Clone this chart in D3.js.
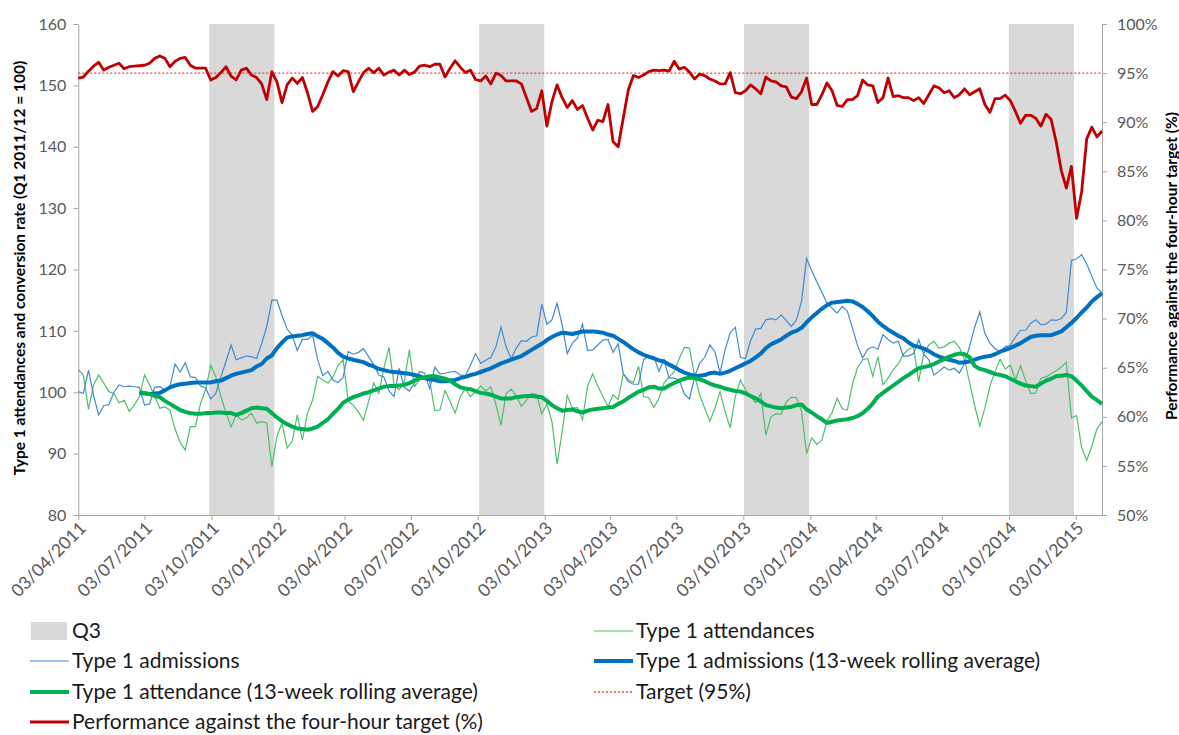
<!DOCTYPE html>
<html>
<head>
<meta charset="utf-8">
<script src="https://cdn.jsdelivr.net/npm/d3@7"></script>
<style>
  body { margin: 0; background: #fff; }
  #chart { width: 1179px; height: 735px; }
  text { font-family: Lato, "Open Sans", sans-serif; }
  .axis path, .axis line { stroke: #a6a6a6; }
  .axis text { fill: #595959; font-size: 16px; }
  .xaxis text { font-size: 17.5px; }
  .axisLabel { font-weight: bold; font-size: 15.5px; fill: #000; }
  .legend--label { font-size: 21px; fill: #1a1a1a; }
</style>
</head>
<body>
<div id="chart"></div>
<script>

/*
DATA (weekly, week ending Sunday, first week ending 03/04/2011)
*/
const firstWeek = "03/04/2011";

// Performance against the four-hour target (%)
const performance = [
    94.5, 94.6, 95.2, 95.7, 96.1, 95.3, 95.6, 95.8, 96.0, 95.45,
    95.65, 95.7, 95.75, 95.8, 96.0, 96.5, 96.75, 96.5, 95.65, 96.2,
    96.5, 96.6, 95.8, 95.5, 95.5, 95.5, 94.3, 94.55, 95.05, 95.65,
    94.7, 94.3, 95.3, 95.5, 94.8, 94.55, 93.9, 92.3, 95.15, 94.1,
    92.0, 93.8, 94.5, 93.95, 94.55, 93.0, 91.1, 91.6, 92.8, 94.1,
    95.15, 94.7, 95.25, 95.15, 93.1, 94.1, 95.05, 95.5, 95.05, 95.5,
    94.8, 95.1, 95.3, 94.8, 95.3, 94.85, 95.1, 95.7, 95.8, 95.65,
    95.9, 95.9, 94.6, 95.5, 96.25, 95.6, 95.05, 95.3, 94.35, 94.2,
    94.7, 93.9, 95.0, 94.75, 94.2, 94.2, 94.2, 93.9, 92.5, 91.1,
    91.4, 93.2, 89.6, 92.1, 93.8, 92.5, 91.5, 92.2, 91.3, 91.7,
    90.4, 89.2, 90.2, 90.05, 91.8, 88.0, 87.5, 90.4, 93.3, 94.75,
    94.55, 94.8, 95.15, 95.3, 95.25, 95.3, 95.2, 96.2, 95.4, 95.6,
    95.1, 94.4, 94.9, 94.75, 94.4, 94.2, 93.9, 93.9, 95.05, 93.0,
    92.9, 93.2, 93.8, 93.4, 92.9, 94.6, 94.2, 94.1, 93.7, 93.6,
    92.55, 92.4, 93.1, 94.5, 91.8, 91.8, 92.8, 94.0, 93.2, 91.7,
    91.6, 92.3, 92.3, 92.7, 94.3, 93.8, 93.7, 92.0, 92.5, 94.5,
    92.6, 92.7, 92.5, 92.5, 92.2, 92.5, 91.9, 92.8, 93.7, 93.5,
    93.0, 93.2, 92.5, 92.8, 93.4, 92.8, 93.1, 93.4, 91.8, 91.0,
    92.4, 92.4, 92.75, 92.2, 91.1, 89.9, 90.7, 90.7, 90.4, 89.6,
    90.8, 90.3, 88.0, 85.1, 83.3, 85.5, 80.2, 82.9, 88.3, 89.5,
    88.5, 89.1
];

// Type 1 admissions (index)
const admissions = [
    100.1, 99.8, 103.6, 99.5, 96.3, 97.8, 98.0, 100.0, 101.2, 100.9,
    101.0, 100.9, 100.8, 97.9, 98.1, 100.8, 100.9, 100.4, 101.0, 104.6,
    103.3, 104.8, 102.5, 102.4, 101.0, 100.7, 98.9, 99.8, 102.5, 105.0,
    107.7, 105.3, 105.6, 105.9, 105.8, 105.5, 107.9, 110.7, 115.0, 115.0,
    112.5, 110.3, 109.3, 106.8, 108.6, 108.6, 109.3, 105.3, 102.7, 103.4,
    102.0, 101.6, 102.4, 106.6, 106.2, 106.5, 107.1, 105.8, 104.5, 102.8,
    102.5, 100.2, 99.3, 103.9, 100.8, 100.2, 101.5, 103.4, 103.1, 100.6,
    104.1, 103.0, 103.1, 103.3, 103.4, 102.8, 102.7, 104.4, 106.3, 104.7,
    105.2, 105.7, 107.4, 110.6, 107.4, 105.5, 107.2, 108.4, 108.3, 109.0,
    109.2, 114.4, 111.1, 111.8, 114.5, 111.0, 106.3, 108.0, 108.8, 111.1,
    106.8, 106.9, 107.7, 108.5, 108.6, 106.5, 107.9, 103.1, 101.7, 101.3,
    101.3, 105.3, 105.9, 105.8, 103.4, 105.3, 102.3, 102.3, 102.0, 99.7,
    98.9, 102.5, 104.7, 105.7, 107.7, 106.6, 103.1, 106.9, 109.7, 110.6,
    105.7, 105.5, 108.4, 110.3, 110.4, 111.8, 112.0, 111.8, 112.6, 111.7,
    110.7, 111.8, 114.8, 121.8, 119.8, 118.0, 116.3, 114.5, 113.7, 112.9,
    114.0, 113.2, 110.5, 107.6, 105.6, 107.0, 107.4, 107.0, 109.4, 108.6,
    108.0, 108.3, 105.9, 105.9, 106.3, 108.6, 106.2, 105.3, 102.8, 103.4,
    104.1, 103.6, 103.9, 103.1, 104.7, 107.5, 110.6, 113.1, 109.6, 108.0,
    107.1, 106.6, 107.4, 107.7, 109.0, 110.1, 110.1, 111.2, 111.8, 111.0,
    111.1, 111.8, 111.7, 112.0, 113.0, 121.5, 121.7, 122.4, 120.9, 118.9,
    117.0, 116.2
];

// Type 1 attendances (index)
const attendances = [
    103.7, 102.8, 97.2, 101.2, 102.8, 101.5, 100.1, 99.8, 98.3, 98.7,
    96.9, 97.9, 99.3, 102.8, 101.2, 99.4, 97.4, 97.6, 97.1, 94.0,
    91.8, 90.6, 94.4, 94.4, 98.2, 100.4, 104.4, 102.5, 99.3, 96.6,
    94.4, 96.3, 95.5, 95.8, 96.6, 95.0, 95.2, 95.0, 87.9, 92.8,
    95.0, 90.9, 92.0, 96.3, 92.2, 96.6, 98.7, 102.6, 102.0, 101.5,
    102.5, 104.4, 105.3, 98.5, 97.9, 96.8, 95.4, 98.5, 101.5, 99.8,
    103.9, 107.3, 101.2, 100.4, 101.7, 106.9, 100.9, 102.0, 102.6, 101.8,
    97.0, 97.1, 100.3, 98.5, 96.6, 99.3, 100.6, 99.3, 100.1, 101.0,
    100.2, 100.9, 98.0, 94.6, 99.8, 100.5, 99.4, 97.7, 98.7, 99.8,
    99.6, 96.5, 98.1, 95.2, 88.3, 93.5, 99.5, 97.4, 97.5, 95.5,
    101.0, 103.0, 101.0, 99.3, 97.7, 99.6, 98.8, 103.0, 102.0, 101.6,
    104.2, 99.3, 99.1, 97.5, 99.0, 101.5, 102.5, 103.3, 105.5, 107.3,
    107.2, 102.7, 99.6, 97.4, 95.3, 97.4, 100.1, 96.8, 94.2, 99.3,
    102.0, 100.4, 99.3, 98.3, 99.8, 93.0, 96.0, 96.5, 96.4, 98.4,
    99.2, 99.1, 96.9, 90.0, 92.6, 91.5, 92.2, 95.3, 96.7, 99.0,
    97.3, 97.1, 101.3, 104.0, 105.3, 105.5, 102.6, 105.8, 101.2, 102.3,
    103.7, 104.6, 106.2, 107.0, 107.4, 101.7, 106.3, 107.7, 108.3, 107.2,
    107.4, 108.0, 108.3, 107.3, 105.3, 101.6, 97.8, 94.5, 97.4, 101.0,
    103.4, 105.4, 103.8, 104.4, 102.0, 104.3, 101.9, 99.8, 99.9, 102.3,
    102.5, 103.0, 103.5, 104.1, 104.9, 95.8, 96.2, 91.0, 88.9, 91.2,
    94.0, 95.2
];

// 13-week rolling averages, first value is week 13 (index 12)
const avgFirstIndex = 12;

const admissionsAvg = [
    99.9, 99.8, 99.7, 99.8, 99.9, 100.3, 100.8, 101.1, 101.3, 101.4,
    101.5, 101.6, 101.6, 101.6, 101.6, 101.8, 101.9, 102.3, 102.7, 103.0,
    103.2, 103.4, 103.6, 104.2, 104.6, 105.5, 106.0, 107.2, 108.1, 108.9,
    109.1, 109.2, 109.3, 109.5, 109.6, 109.1, 108.7, 108.0, 107.3, 106.4,
    105.8, 105.5, 105.3, 105.1, 104.9, 104.5, 104.2, 103.8, 103.6, 103.4,
    103.3, 103.2, 103.1, 103.0, 102.8, 102.6, 102.3, 102.1, 102.0, 101.8,
    101.8, 101.9, 102.0, 102.3, 102.5, 102.8, 103.0, 103.3, 103.6, 103.9,
    104.3, 104.7, 105.0, 105.3, 105.6, 105.9, 106.4, 106.9, 107.4, 107.9,
    108.5, 109.0, 109.4, 109.7, 109.6, 109.5, 109.7, 109.9, 109.9, 109.9,
    109.8, 109.7, 109.4, 109.2, 108.7, 108.2, 107.6, 107.0, 106.5, 106.1,
    105.8, 105.5, 105.2, 105.0, 104.5, 104.1, 103.6, 103.2, 102.9, 102.7,
    102.7, 102.8, 103.1, 103.2, 103.0, 103.2, 103.5, 103.9, 104.3, 104.7,
    105.1, 105.7, 106.3, 107.2, 107.8, 108.2, 108.6, 109.2, 109.7, 110.0,
    110.5, 111.4, 112.2, 112.9, 113.6, 114.2, 114.6, 114.7, 114.8, 114.9,
    114.8, 114.4, 113.9, 113.2, 112.4, 111.5, 110.8, 110.2, 109.7, 109.2,
    108.8, 108.1, 107.6, 107.4, 107.1, 106.7, 106.2, 105.8, 105.5, 105.3,
    105.1, 104.8, 104.9, 105.0, 105.3, 105.6, 105.8, 105.9, 106.2, 106.6,
    106.9, 107.2, 107.6, 108.0, 108.5, 109.0, 109.2, 109.3, 109.3, 109.3,
    109.6, 109.9, 110.6, 111.3, 112.1, 113.0, 113.8, 114.8, 115.5, 116.1
];

const attendanceAvg = [
    100.0, 99.9, 99.7, 99.4, 99.2, 98.6, 98.1, 97.6, 97.1, 96.8,
    96.6, 96.5, 96.5, 96.6, 96.6, 96.7, 96.7, 96.6, 96.6, 96.3,
    96.6, 97.0, 97.4, 97.5, 97.4, 97.3, 96.6, 95.9, 95.3, 94.8,
    94.4, 94.1, 94.0, 93.9, 94.1, 94.4, 95.0, 95.6, 96.5, 97.3,
    98.3, 98.8, 99.2, 99.5, 99.8, 100.0, 100.3, 100.6, 100.9, 101.0,
    101.0, 101.1, 101.2, 101.5, 101.9, 102.3, 102.4, 102.6, 102.6, 102.4,
    102.2, 101.9, 101.3, 100.8, 100.6, 100.5, 100.2, 99.9, 99.8, 99.6,
    99.3, 99.0, 99.0, 99.0, 99.2, 99.3, 99.4, 99.4, 99.3, 99.2,
    98.6, 97.9, 97.4, 97.0, 97.1, 97.2, 96.9, 96.7, 97.0, 97.2,
    97.3, 97.4, 97.5, 97.6, 98.1, 98.5, 99.1, 99.6, 100.1, 100.4,
    100.8, 100.9, 100.6, 100.6, 101.1, 101.5, 101.9, 102.2, 102.4, 102.3,
    102.1, 101.8, 101.4, 101.1, 100.9, 100.6, 100.4, 100.2, 100.1, 99.8,
    99.4, 99.0, 98.5, 97.9, 97.7, 97.5, 97.4, 97.5, 97.6, 97.9,
    98.0, 97.2, 96.7, 96.1, 95.6, 95.0, 95.2, 95.4, 95.5, 95.6,
    95.8, 96.1, 96.6, 97.3, 98.2, 99.3, 99.9, 100.5, 101.1, 101.7,
    102.3, 102.8, 103.4, 103.9, 104.1, 104.3, 104.6, 105.0, 105.4, 105.8,
    106.1, 106.3, 106.2, 105.7, 104.3, 103.8, 103.6, 103.3, 103.0, 102.8,
    102.6, 102.2, 101.8, 101.4, 101.1, 101.0, 100.9, 101.4, 101.9, 102.2,
    102.6, 102.7, 102.8, 102.6, 101.9, 101.1, 100.2, 99.3, 98.7, 98.1
];

const targetPct = 95;

// Q3 periods (shaded)
const q3Periods = [
    ["02/10/2011", "25/12/2011"],
    ["07/10/2012", "30/12/2012"],
    ["06/10/2013", "29/12/2013"],
    ["05/10/2014", "28/12/2014"]
];

const xTickLabels = [
    "03/04/2011", "03/07/2011", "03/10/2011", "03/01/2012", "03/04/2012",
    "03/07/2012", "03/10/2012", "03/01/2013", "03/04/2013", "03/07/2013",
    "03/10/2013", "03/01/2014", "03/04/2014", "03/07/2014", "03/10/2014",
    "03/01/2015"
];

const leftTicks = [80, 90, 100, 110, 120, 130, 140, 150, 160];
const rightTicks = [0.50, 0.55, 0.60, 0.65, 0.70, 0.75, 0.80, 0.85, 0.90, 0.95, 1.00];

/*
DIMENSIONS + SVG
*/
const width = 1179;
const height = 735;
const margin = {top: 24, left: 78.3, right: 77, bottom: 220};

const svg = d3.select("#chart")
    .append("svg")
    .attr("width", width)
    .attr("height", height);

const parseDate = d3.timeParse("%d/%m/%Y");
const start = parseDate(firstWeek);
const weeks = performance.map(function(d, i) { return d3.timeDay.offset(start, 7 * i); });

/*
SCALES
*/
const xScale = d3.scaleTime()
    .domain([weeks[0], weeks[weeks.length - 1]])
    .range([margin.left, width - margin.right]);

const yScale = d3.scaleLinear()
    .domain([80, 160])
    .range([height - margin.bottom, margin.top]);

const yRight = d3.scaleLinear()
    .domain([0.5, 1.0])
    .range([height - margin.bottom, margin.top]);

/*
Q3 BANDS
*/
svg.selectAll("rect.q3")
    .data(q3Periods)
    .enter()
    .append("rect")
        .attr("class", "q3")
        .attr("x", function(d) { return xScale(parseDate(d[0])) - 1.5; })
        .attr("width", function(d) { return xScale(parseDate(d[1])) - xScale(parseDate(d[0])) + 4; })
        .attr("y", yScale(160))
        .attr("height", yScale(80) - yScale(160))
        .attr("fill", "#d9d9d9");

/*
AXES
*/
const xAxis = svg.append("g")
    .attr("class", "axis xaxis")
    .attr("transform", `translate(0,${yScale(80)})`)
    .call(d3.axisBottom(xScale)
        .tickValues(xTickLabels.map(parseDate))
        .tickSize(5)
        .tickSizeOuter(0)
        .tickFormat(d3.timeFormat("%d/%m/%Y")));

xAxis.select(".domain").attr("d", `M${margin.left},0.5H${width - margin.right}`);
xAxis.selectAll("text")
    .attr("text-anchor", "end")
    .attr("transform", "translate(4,10) rotate(-45)")
    .attr("dy", "0.35em")
    .attr("y", 0)
    .attr("x", 0);

const yAxis = svg.append("g")
    .attr("class", "axis")
    .attr("transform", `translate(${margin.left},0)`)
    .call(d3.axisLeft(yScale).tickValues(leftTicks).tickSize(5).tickSizeOuter(0).tickPadding(7));

const yAxisRight = svg.append("g")
    .attr("class", "axis")
    .attr("transform", `translate(${width - margin.right},0)`)
    .call(d3.axisRight(yRight).tickValues(rightTicks).tickSize(5).tickSizeOuter(0).tickPadding(10)
        .tickFormat(d3.format(".0%")));

/*
LINES
*/
function lineFor(scale, offset) {
    return d3.line()
        .x(function(d, i) { return xScale(weeks[i + offset]); })
        .y(function(d) { return scale(d); });
}

svg.append("path")
    .datum(attendances)
    .attr("fill", "none")
    .attr("stroke", "#4dbf6c")
    .attr("stroke-width", 1.2)
    .attr("d", lineFor(yScale, 0));

svg.append("path")
    .datum(admissions)
    .attr("fill", "none")
    .attr("stroke", "#418ad2")
    .attr("stroke-width", 1.2)
    .attr("d", lineFor(yScale, 0));

svg.append("path")
    .datum(admissionsAvg)
    .attr("fill", "none")
    .attr("stroke", "#0070c0")
    .attr("stroke-width", 4)
    .attr("stroke-linejoin", "round")
    .attr("d", lineFor(yScale, avgFirstIndex));

svg.append("path")
    .datum(attendanceAvg)
    .attr("fill", "none")
    .attr("stroke", "#00b050")
    .attr("stroke-width", 4)
    .attr("stroke-linejoin", "round")
    .attr("d", lineFor(yScale, avgFirstIndex));

// target line
svg.append("line")
    .attr("x1", margin.left)
    .attr("x2", width - margin.right)
    .attr("y1", yRight(targetPct / 100))
    .attr("y2", yRight(targetPct / 100))
    .attr("stroke", "#f23c3c")
    .attr("stroke-width", 1.3)
    .attr("stroke-dasharray", "2,2");

svg.append("path")
    .datum(performance)
    .attr("fill", "none")
    .attr("stroke", "#c00000")
    .attr("stroke-width", 2.8)
    .attr("stroke-linejoin", "round")
    .attr("d", lineFor(function(v) { return yRight(v / 100); }, 0));

/*
AXIS LABELS
*/
svg.append("text")
    .attr("class", "axisLabel")
    .attr("transform", "rotate(-90)")
    .attr("x", -268)
    .attr("y", 25)
    .attr("text-anchor", "middle")
    .text("Type 1 attendances and conversion rate (Q1 2011/12 = 100)");

svg.append("text")
    .attr("class", "axisLabel")
    .attr("transform", "rotate(-90)")
    .attr("x", -266)
    .attr("y", 1177)
    .attr("text-anchor", "middle")
    .text("Performance against the four-hour target (%)");

/*
LEGEND
*/
const legendItems = [
    {label: "Q3", type: "box", color: "#d9d9d9", x: 30, y: 631},
    {label: "Type 1 attendances", type: "line", color: "#4dbf6c", w: 1.2, x: 594, y: 631},
    {label: "Type 1 admissions", type: "line", color: "#418ad2", w: 1.2, x: 30, y: 661},
    {label: "Type 1 admissions (13-week rolling average)", type: "line", color: "#0070c0", w: 4, x: 594, y: 661},
    {label: "Type 1 attendance (13-week rolling average)", type: "line", color: "#00b050", w: 4, x: 30, y: 692},
    {label: "Target (95%)", type: "dash", color: "#f23c3c", w: 1.3, x: 594, y: 692},
    {label: "Performance against the four-hour target (%)", type: "line", color: "#c00000", w: 2.8, x: 30, y: 722}
];

const legend = svg.append("g").attr("class", "legend");

legendItems.forEach(function(item) {
    if (item.type === "box") {
        legend.append("rect")
            .attr("x", item.x + 1)
            .attr("y", item.y - 9)
            .attr("width", 36)
            .attr("height", 18)
            .attr("fill", item.color);
    } else {
        legend.append("line")
            .attr("x1", item.x)
            .attr("x2", item.x + 39)
            .attr("y1", item.y)
            .attr("y2", item.y)
            .attr("stroke", item.color)
            .attr("stroke-width", item.w)
            .attr("stroke-dasharray", item.type === "dash" ? "2,2" : null);
    }
    legend.append("text")
        .attr("class", "legend--label")
        .attr("x", item.x + 42)
        .attr("y", item.y)
        .attr("dy", "0.35em")
        .text(item.label);
});

</script>
</body>
</html>
